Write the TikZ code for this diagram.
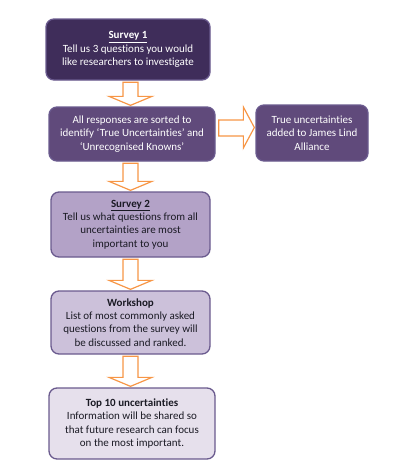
\documentclass[tikz,border=0pt]{standalone}
\usepackage{fontspec}
\setmainfont{Carlito}[RawFeature={-liga,-clig,-dlig,-calt,-rlig}]
\usetikzlibrary{calc}
\definecolor{cA}{HTML}{3F2D5A}
\definecolor{cB}{HTML}{604A7B}
\definecolor{cC}{HTML}{B3A2C7}
\definecolor{cD}{HTML}{CCC1DA}
\definecolor{cE}{HTML}{E6E0EC}
\definecolor{bord}{HTML}{6A5A8E}
\definecolor{orng}{HTML}{F79646}
\definecolor{dtext}{HTML}{1A1A24}
\newcommand\flowarrow[2]{\draw[arr] let \p1=(#1.south), \p2=(#2.north) in
  (123pt,\y1-1.5pt) -- (138pt,\y1-1.5pt) -- (138pt,\y2+10pt) -- (152pt,\y2+10pt) -- (130.5pt,\y2+1pt) -- (109pt,\y2+10pt) -- (123pt,\y2+10pt) -- cycle;}
\begin{document}
\begin{tikzpicture}[x=1pt,y=1pt,
  box/.style={draw=bord, line width=1.3pt, rounded corners=8pt, align=center, inner sep=0pt, font=\fontsize{11}{13.3}\selectfont},
  arr/.style={draw=orng, line width=1.2pt, fill=white, line join=miter}]
\useasboundingbox (0,0) rectangle (397,-475);
\node[box, fill=cA, text=white, minimum width=164pt, minimum height=61pt] (s1) at (128,-49.5)
  {\underline{\textbf{Survey 1}}\\Tell us 3 questions you would\\like researchers to investigate};
\node[box, fill=cB, text=white, minimum width=166pt, minimum height=54pt] (sort) at (132,-134)
  {All responses are sorted to\\identify ‘True Uncertainties’ and\\‘Unrecognised Knowns’};
\node[box, fill=cB, text=white, minimum width=112pt, minimum height=56pt] (jla) at (312,-133)
  {True uncertainties\\added to James Lind\\Alliance};
\node[box, fill=cC, text=dtext, minimum width=159pt, minimum height=65pt] (s2) at (130.5,-224.5)
  {\underline{\textbf{Survey 2}}\\Tell us what questions from all\\uncertainties are most\\important to you};
\node[box, fill=cD, text=dtext, minimum width=159pt, minimum height=63pt] (ws) at (130.5,-322.5)
  {\textbf{Workshop}\\List of most commonly asked\\questions from the survey will\\be discussed and ranked.};
\node[box, fill=cE, text=dtext, minimum width=166pt, minimum height=71pt] (top) at (132,-423.5)
  {\textbf{Top 10 uncertainties}\\Information will be shared so\\that future research can focus\\on the most important.};
\flowarrow{s1}{sort}
\flowarrow{sort}{s2}
\flowarrow{s2}{ws}
\flowarrow{ws}{top}
\draw[arr] let \p1=(sort.east), \p2=(jla.west) in
  (\x1+3pt,-120pt) -- (\x2-12pt,-120pt) -- (\x2-12pt,-107pt) -- (\x2-1pt,-127.5pt) -- (\x2-12pt,-148pt) -- (\x2-12pt,-136pt) -- (\x1+3pt,-136pt) -- cycle;
\end{tikzpicture}
\end{document}
